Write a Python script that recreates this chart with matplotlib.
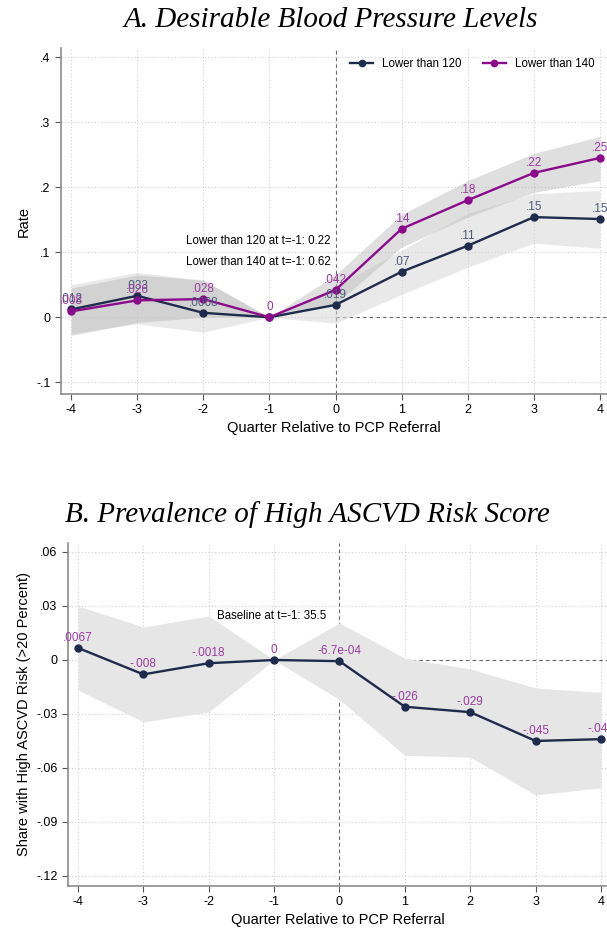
import numpy as np
import matplotlib.pyplot as plt

# quarters relative to referral
quarters = [-4, -3, -2, -1, 0, 1, 2, 3, 4]

# Panel A: desirable blood pressure
bp120 = [0.012, 0.033, 0.0068, 0.0, 0.019, 0.07, 0.11, 0.154, 0.151]
bp120_lo = [-0.025, -0.01, -0.023, 0.0, -0.009, 0.035, 0.077, 0.114, 0.106]
bp120_hi = [0.05, 0.069, 0.057, 0.0, 0.047, 0.103, 0.16, 0.19, 0.195]
bp120_labels = [".012", ".033", ".0068", "", ".019", ".07", ".11", ".15", ".15"]

bp140 = [0.009, 0.026, 0.028, 0.0, 0.042, 0.136, 0.18, 0.222, 0.245]
bp140_lo = [-0.028, -0.008, 0.0, 0.0, 0.02, 0.108, 0.154, 0.192, 0.21]
bp140_hi = [0.045, 0.065, 0.057, 0.0, 0.065, 0.158, 0.21, 0.252, 0.278]
bp140_labels = [".008", ".026", ".028", "0", ".042", ".14", ".18", ".22", ".25"]

# Panel B: high ASCVD risk
ascvd = [0.0067, -0.008, -0.0018, 0.0, -0.00067, -0.026, -0.029, -0.045, -0.044]
ascvd_lo = [-0.0167, -0.0344, -0.0289, 0.0, -0.022, -0.053, -0.054, -0.075, -0.071]
ascvd_hi = [0.030, 0.0183, 0.0244, 0.0, 0.0206, 0.001, -0.005, -0.0156, -0.018]
ascvd_labels = [".0067", "-.008", "-.0018", "0", "-6.7e-04", "-.026", "-.029", "-.045", "-.044"]

navy = '#1f2b4d'
navy_lbl = '#4b5a78'
purple = '#8b0a8b'
purple_lbl = '#9a3aa0'
grid_c = '#cfcfcf'
spine_c = '#8c8c8c'

plt.rcParams['font.family'] = ['Liberation Sans', 'DejaVu Sans']

fig = plt.figure(figsize=(6.07, 9.33), dpi=100)
axA = fig.add_axes([61 / 607, 1 - 394 / 933, 546 / 607, 346 / 933])
axB = fig.add_axes([68 / 607, 1 - 886 / 933, 539 / 607, 343 / 933])


def style_axes(ax, yticks, ytl, xlim, ylim):
    ax.set_xlim(*xlim)
    ax.set_ylim(*ylim)
    ax.set_xticks(quarters)
    ax.set_xticklabels([str(q) for q in quarters], fontsize=9)
    ax.set_yticks(yticks)
    ax.set_yticklabels(ytl, fontsize=9)
    for s in ['top', 'right']:
        ax.spines[s].set_visible(False)
    for s in ['left', 'bottom']:
        ax.spines[s].set_color(spine_c)
        ax.spines[s].set_linewidth(1.2)
    ax.tick_params(colors='#555555', labelcolor='black', length=4, width=0.8)
    ax.grid(True, color=grid_c, linestyle=(0, (1, 2)), linewidth=0.8)
    ax.set_axisbelow(True)
    ax.set_xlabel('Quarter Relative to PCP Referral', fontsize=10.5, labelpad=3)
    ax.axvline(0, color='#666666', linestyle=(0, (3, 3)), linewidth=0.8, zorder=1)
    ax.plot([0, 4.2], [0, 0], color='#666666', linestyle=(0, (3, 3)), linewidth=0.8, zorder=1)


# ---- Panel A
axA.fill_between(quarters, bp120_lo, bp120_hi, color='#d8d8d8', alpha=0.55, lw=0, zorder=2)
axA.fill_between(quarters, bp140_lo, bp140_hi, color='#b8b8b8', alpha=0.45, lw=0, zorder=2)
axA.plot(quarters, bp120, color=navy, marker='o', markersize=5, lw=1.7, zorder=4, label='Lower than 120')
axA.plot(quarters, bp140, color=purple, marker='o', markersize=5, lw=1.7, zorder=5, label='Lower than 140')
for q, v, t in zip(quarters, bp120, bp120_labels):
    if t:
        axA.annotate(t, (q, v), xytext=(0, 3), textcoords='offset points', ha='center', va='bottom',
                     fontsize=8.5, color=navy_lbl, zorder=6)
for q, v, t in zip(quarters, bp140, bp140_labels):
    axA.annotate(t, (q, v), xytext=(0, 3), textcoords='offset points', ha='center', va='bottom',
                 fontsize=8.5, color=purple_lbl, zorder=6)
axA.text(-2.26, 0.118, 'Lower than 120 at t=-1: 0.22', fontsize=8.3, va='center', zorder=6)
axA.text(-2.26, 0.085, 'Lower than 140 at t=-1: 0.62', fontsize=8.3, va='center', zorder=6)
style_axes(axA, [-0.1, 0, 0.1, 0.2, 0.3, 0.4], ['-.1', '0', '.1', '.2', '.3', '.4'],
           (-4.152, 4.106), (-0.118, 0.414))
axA.set_ylabel('Rate', fontsize=10.5)
axA.legend(loc='upper right', bbox_to_anchor=(0.996, 1.0), ncol=2, frameon=False, fontsize=8.3,
           handlelength=2, columnspacing=1.8, markerscale=0.9)
axA.set_title('A. Desirable Blood Pressure Levels', fontsize=21, fontstyle='italic',
              family='Liberation Serif', pad=15, x=0.495)

# ---- Panel B
axB.fill_between(quarters, ascvd_lo, ascvd_hi, color='#e6e6e6', lw=0, zorder=2)
axB.plot(quarters, ascvd, color=navy, marker='o', markersize=5, lw=1.7, zorder=4)
for q, v, t in zip(quarters, ascvd, ascvd_labels):
    axB.annotate(t, (q, v), xytext=(0, 3), textcoords='offset points', ha='center', va='bottom',
                 fontsize=8.5, color=purple_lbl, zorder=6)
axB.text(-1.87, 0.0244, 'Baseline at t=-1: 35.5', fontsize=8.3, va='center', zorder=6)
style_axes(axB, [-0.12, -0.09, -0.06, -0.03, 0, 0.03, 0.06],
           ['-.12', '-.09', '-.06', '-.03', '0', '.03', '.06'],
           (-4.153, 4.092), (-0.1256, 0.065))
axB.set_ylabel('Share with High ASCVD Risk (>20 Percent)', fontsize=10.5)
axB.set_title('B. Prevalence of High ASCVD Risk Score', fontsize=21, fontstyle='italic',
              family='Liberation Serif', pad=15, x=0.445)

fig.savefig('out.png', dpi=100)
